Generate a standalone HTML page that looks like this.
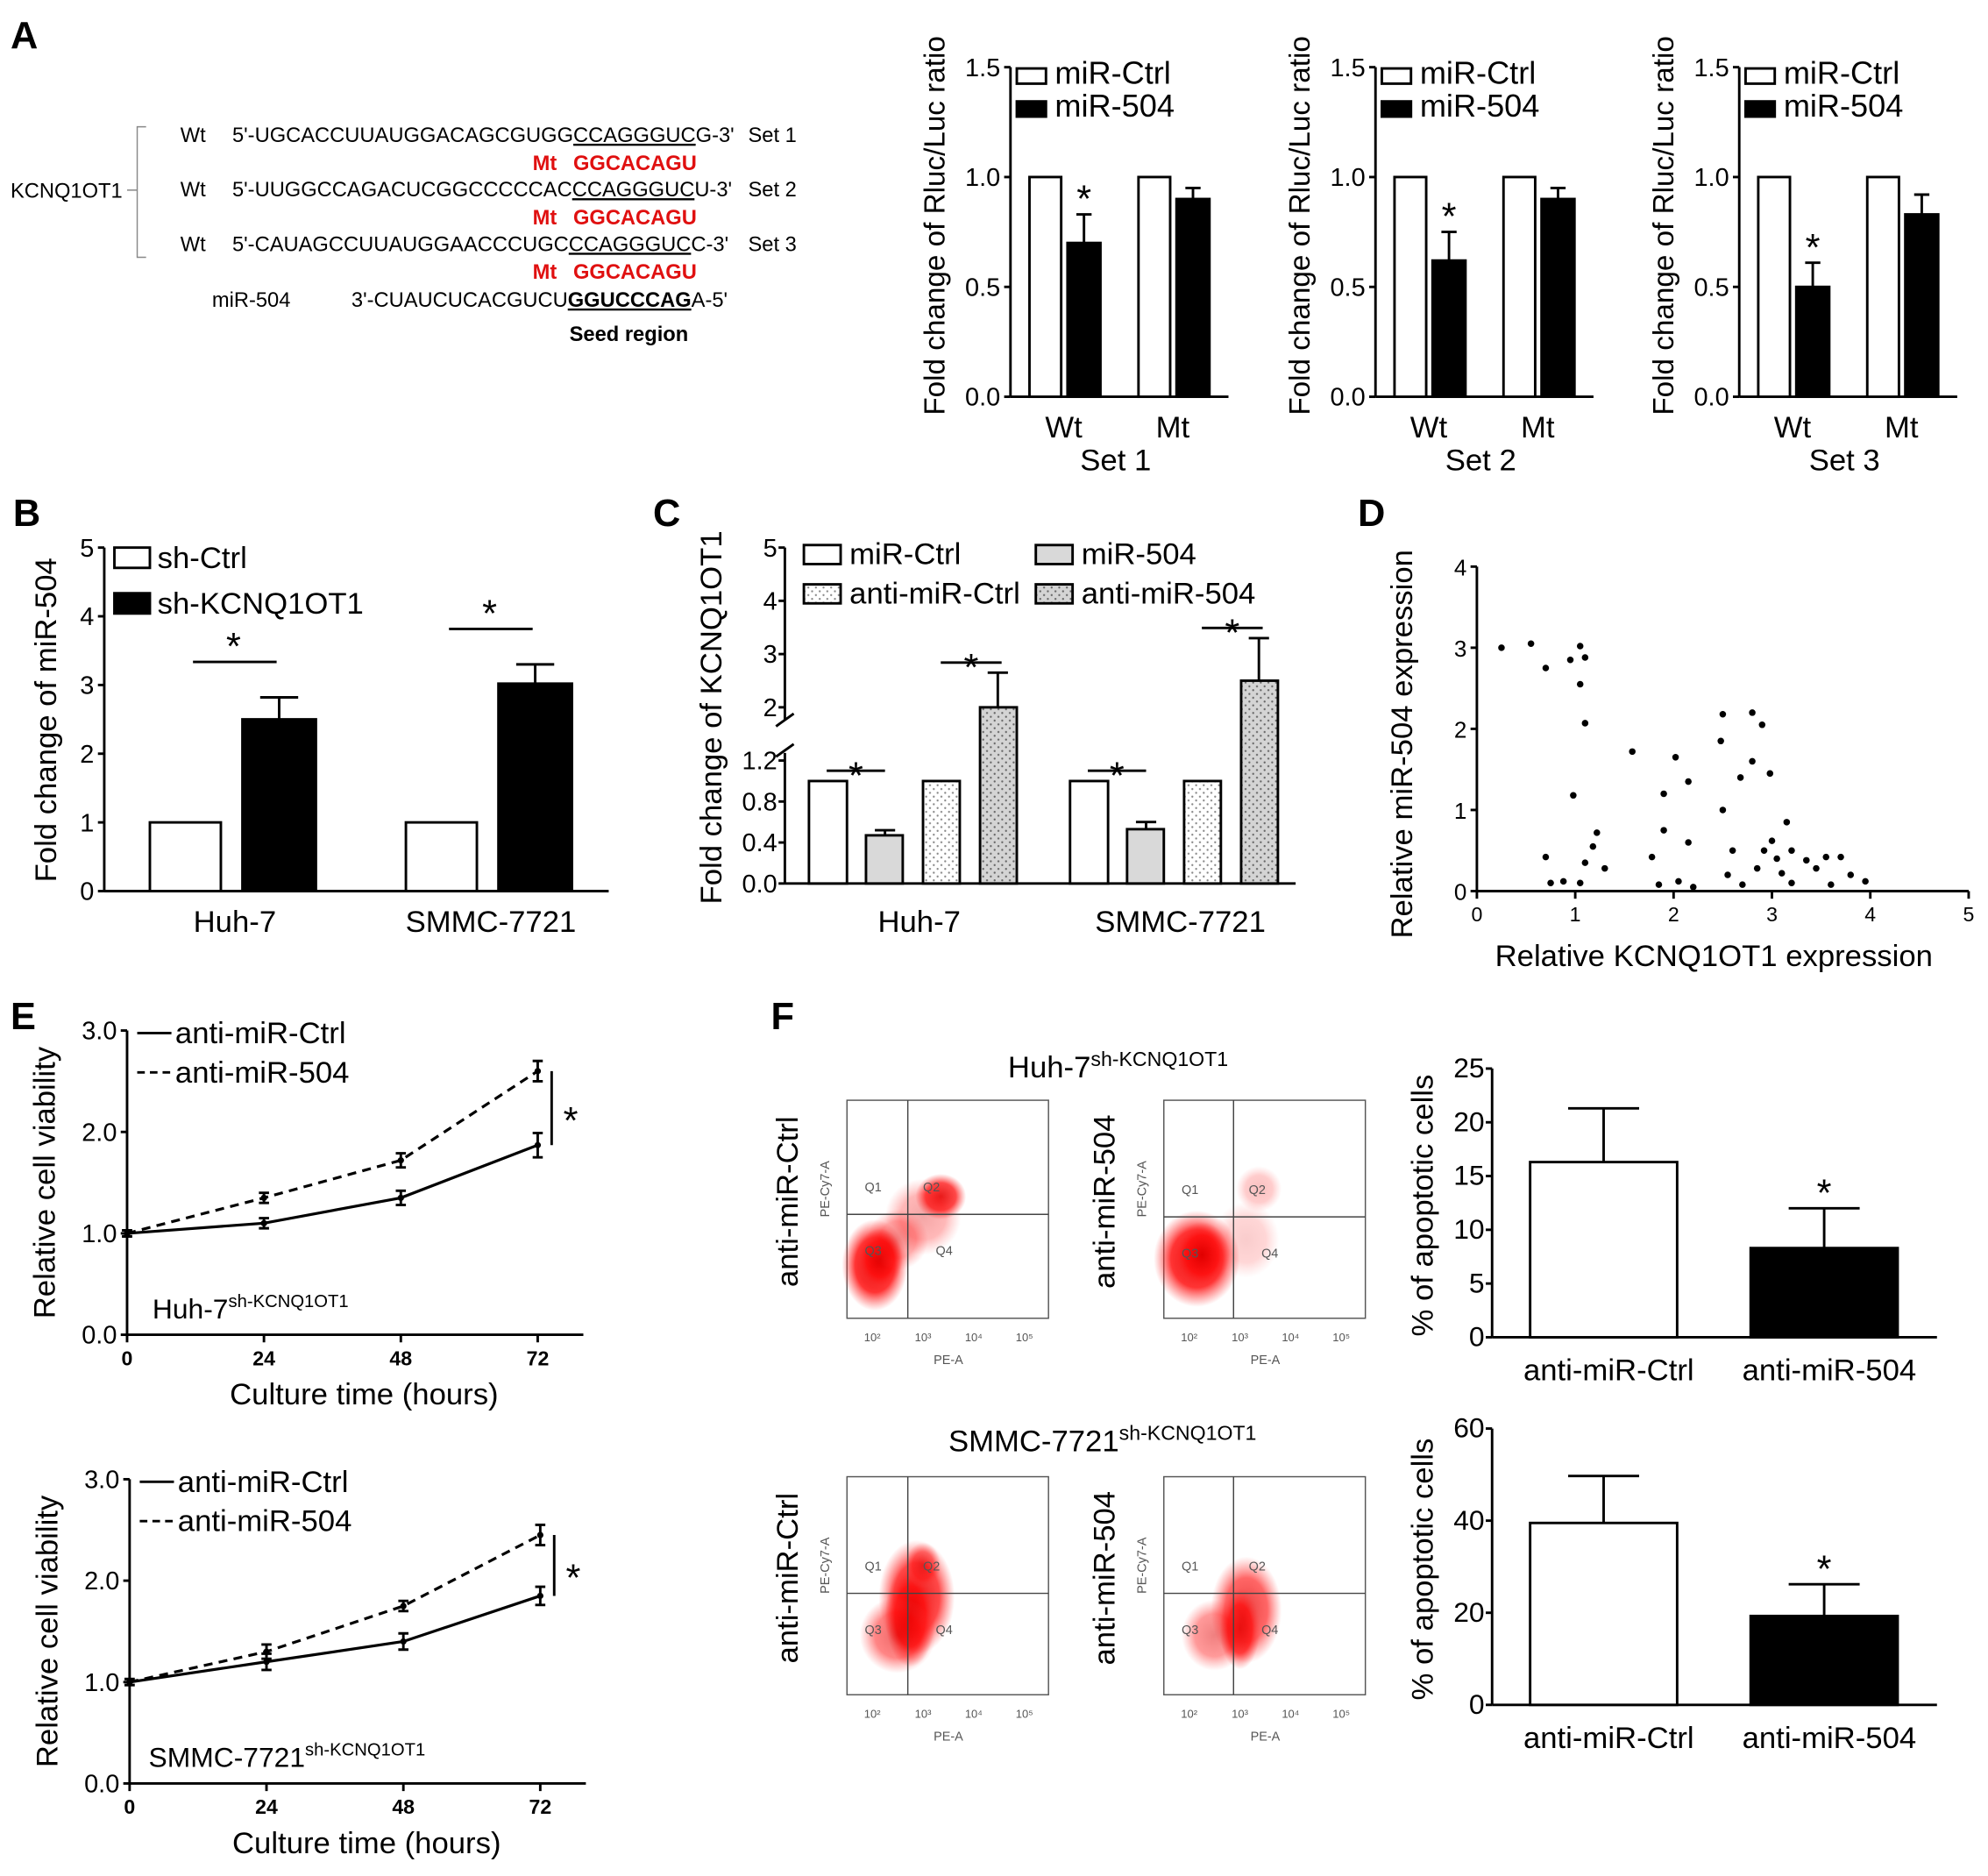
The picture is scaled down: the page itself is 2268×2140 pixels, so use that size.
<!DOCTYPE html>
<html><head><meta charset="utf-8"><style>
html,body{margin:0;padding:0;background:#fff}
svg{display:block;font-family:"Liberation Sans",Arial,sans-serif}
</style></head><body>
<svg id="fig" xmlns="http://www.w3.org/2000/svg" width="2268" height="2140" viewBox="0 0 1568 1480">
<defs>
<pattern id="dotW" width="6" height="6" patternUnits="userSpaceOnUse"><rect width="6" height="6" fill="#fff"/><circle cx="1.5" cy="1.5" r="0.8" fill="#888"/><circle cx="4.5" cy="4.5" r="0.8" fill="#888"/></pattern>
<pattern id="dotG" width="6" height="6" patternUnits="userSpaceOnUse"><rect width="6" height="6" fill="#d4d4d4"/><circle cx="1.5" cy="1.5" r="0.8" fill="#666"/><circle cx="4.5" cy="4.5" r="0.8" fill="#666"/></pattern>
<radialGradient id="redc"><stop offset="0" stop-color="#e00000" stop-opacity="1"/><stop offset="0.6" stop-color="#ff1010" stop-opacity="0.85"/><stop offset="1" stop-color="#ff4040" stop-opacity="0"/></radialGradient>
</defs>
<g id="root"></g>
</svg>
<script>
// ---------- data ----------
const aCats=['Wt','Mt'];
const aSets=['Set 1','Set 2','Set 3'];
const aCtrl=[[1,1],[1,1],[1,1]];
const a504=[[0.7,0.9],[0.62,0.9],[0.5,0.83]];
const a504Err=[[0.13,0.05],[0.13,0.05],[0.11,0.09]];
const aTicks=[0,0.5,1.0,1.5];
const bCells=['Huh-7','SMMC-7721'];
const bCtrl=[1,1];
const bSh=[2.5,3.02];
const bShErr=[0.32,0.28];
const bTicks=[0,1,2,3,4,5];
const cCells=['Huh-7','SMMC-7721'];
const cMiCtrl=[1,1];
const cMi504=[0.47,0.53];
const cMi504Err=[0.05,0.07];
const cAntiCtrl=[1,1];
const cAnti504=[2.0,2.5];
const cAnti504Err=[0.65,0.8];
const cTicksLow=[0,0.4,0.8,1.2];
const cTicksHigh=[2,3,4,5];
const dX=[0.25,0.55,0.7,0.95,1.05,1.1,1.05,1.1,0.98,0.7,0.75,0.88,1.05,1.1,1.18,1.22,1.3,1.58,1.78,1.85,1.9,1.9,2.02,2.05,2.15,2.15,2.2,2.5,2.48,2.5,2.55,2.6,2.7,2.68,2.8,2.8,2.9,2.85,2.92,2.98,3.0,3.05,3.1,3.15,3.2,3.2,3.35,3.45,3.55,3.6,3.7,3.8,3.95];
const dY=[3.0,3.05,2.75,2.85,3.02,2.88,2.55,2.07,1.18,0.42,0.1,0.12,0.1,0.35,0.55,0.72,0.28,1.72,0.42,0.08,0.75,1.2,1.65,0.12,1.35,0.6,0.05,2.18,1.85,1.0,0.2,0.5,0.08,1.4,2.2,1.6,2.05,0.28,0.5,1.45,0.62,0.4,0.22,0.85,0.5,0.1,0.38,0.28,0.42,0.08,0.42,0.2,0.12];
const dXTicks=[0,1,2,3,4,5];
const dYTicks=[0,1,2,3,4];
const eHours=[0,24,48,72];
const eTopCtrl=[1.0,1.1,1.35,1.87];
const eTopCtrlErr=[0.03,0.05,0.07,0.12];
const eTopAnti=[1.0,1.35,1.72,2.6];
const eTopAntiErr=[0.03,0.05,0.07,0.1];
const eBotCtrl=[1.0,1.2,1.4,1.85];
const eBotCtrlErr=[0.03,0.08,0.08,0.09];
const eBotAnti=[1.0,1.3,1.75,2.45];
const eBotAntiErr=[0.03,0.07,0.05,0.1];
const eTicks=[0,1,2,3];
const fGroups=['anti-miR-Ctrl','anti-miR-504'];
const fTopVals=[16.3,8.3];
const fTopErr=[5.0,3.7];
const fTopTicks=[0,5,10,15,20,25];
const fBotVals=[39.5,19.3];
const fBotErr=[10.2,6.9];
const fBotTicks=[0,20,40,60];

// ---------- helpers ----------
const NS='http://www.w3.org/2000/svg';
const root=document.getElementById('root');
function mk(tag,a,p){const e=document.createElementNS(NS,tag);for(const k in a)e.setAttribute(k,a[k]);(p||root).appendChild(e);return e;}
function tx(s,x,y,size,anchor,p,extra){const e=mk('text',Object.assign({x:x,y:y,'font-size':size,'text-anchor':anchor||'start',fill:'#000'},extra||{}),p);e.textContent=s;return e;}
function ln(x1,y1,x2,y2,p,w,dash){const a={x1:x1,y1:y1,x2:x2,y2:y2,stroke:'#000','stroke-width':w||2};if(dash)a['stroke-dasharray']=dash;return mk('line',a,p);}
function grp(){return mk('g',{});}
function fmt1(v){return v.toFixed(1);}
function yAxis(g,x,yOf,ticks,f,size,off){
  off=off||8;
  const l=ln(x,yOf(ticks[0]),x,yOf(ticks[ticks.length-1]),g);
  
  
  ticks.forEach(t=>{const y=yOf(t);const tk=ln(x-5,y,x,y,g);
    
    
    const lb=tx(f(t),x-off,y+7,size||20,'end',g);
    
    });
}
function bar(g,x,w,y0,y1,fill,name){const r=mk('rect',{x:x,y:Math.min(y0,y1),width:w,height:Math.abs(y0-y1),fill:fill,stroke:'#000','stroke-width':2},g);
  
  return r;}
function errUp(g,cx,yv,ye,hw){const e=mk('path',{d:`M${cx},${yv}V${ye}M${cx-hw},${ye}H${cx+hw}`,stroke:'#000','stroke-width':2,fill:'none'},g);
  
  }
function star(g,x,y,size){const s=tx('*',x,y,size||30,'middle',g);
  
  }
function ytitle(g,s,x,cy,size){const t=tx(s,x,cy,size||24,'middle',g,{transform:`rotate(-90 ${x} ${cy})`});
  
  }
function legBox(g,x,y,w,h,fill,label,size,tx0){const r=mk('rect',{x:x,y:y,width:w,height:h,fill:fill,stroke:'#000','stroke-width':2},g);
  
  
  const t=tx(label,tx0!==undefined?tx0:x+w+6,y+h,size||24,'start',g);
  
  }

// ---------- Panel letters ----------
[['A',8,38],['B',10,415],['C',515,415],['D',1071,415],['E',8,812],['F',608,812]].forEach(p=>{const t=tx(p[0],p[1],p[2],30,'start',root,{'font-weight':'bold'});
  
  });

// ---------- Panel A sequences ----------
(function(){const g=grp();
  
  
  const FS=16.4;
  const br=mk('path',{d:'M115,100H108V203H115M108,150H100',stroke:'#888','stroke-width':1,fill:'none'},g);
  
  
  tx('KCNQ1OT1',8,156,FS,'start',g);
  const rows=[["5'-UGCACCUUAUGGACAGCGUGG","CCAGGGUC","G-3'",'Set 1',112],["5'-UUGGCCAGACUCGGCCCCCAC","CCAGGGUC","U-3'",'Set 2',155],["5'-CAUAGCCUUAUGGAACCCUGC","CCAGGGUC","C-3'",'Set 3',198]];
  rows.forEach(r=>{tx('Wt',142,r[4],FS,'start',g);
    const t=mk('text',{x:183,y:r[4],'font-size':FS,fill:'#000'},g);
    
    
    const a=mk('tspan',{},t);a.textContent=r[0];const b=mk('tspan',{'text-decoration':'underline'},t);b.textContent=r[1];const c=mk('tspan',{},t);c.textContent=r[2];
    tx(r[3],590,r[4],FS,'start',g);
    const m=tx('Mt',420,r[4]+22,FS,'start',g,{fill:'#e01010','font-weight':'bold'});
    
    
    const ms=tx('GGCACAGU',452,r[4]+22,FS,'start',g,{fill:'#e01010','font-weight':'bold'});
    
    });
  tx('miR-504',167,242,FS,'start',g);
  const t=mk('text',{x:277,y:242,'font-size':FS,fill:'#000'},g);
  
  
  const a=mk('tspan',{},t);a.textContent="3'-CUAUCUCACGUCU";const b=mk('tspan',{'font-weight':'bold','text-decoration':'underline'},t);b.textContent='GGUCCCAG';const c=mk('tspan',{},t);c.textContent="A-5'";
  const s=tx('Seed region',449,269,FS,'start',g,{'font-weight':'bold'});
  
  
})();

// ---------- Panel A bar charts ----------
[797,1085,1372].forEach((ox,i)=>{const g=grp();
  
  
  const y0=313,ppu=(313-53)/1.5,yOf=v=>y0-v*ppu;
  yAxis(g,ox,yOf,aTicks,fmt1,20,8);
  const xa=ln(ox,y0,ox+172,y0,g);
  
  
  aCats.forEach((c,j)=>{const bx=ox+15+j*86;
    bar(g,bx,25,y0,yOf(aCtrl[i][j]),'#fff','bar-ctrl-'+c.toLowerCase());
    bar(g,bx+30,26,y0,yOf(a504[i][j]),'#000','bar-mir504-'+c.toLowerCase());
    errUp(g,bx+43,yOf(a504[i][j]),yOf(a504[i][j]+a504Err[i][j]),6);
    if(j===0)star(g,bx+43,yOf(a504[i][j]+a504Err[i][j])-2,30);
    const cl=tx(c,bx+27,345,24,'middle',g);
    
    });
  const st=tx(aSets[i],ox+83,371,24,'middle',g);
  
  
  ytitle(g,'Fold change of Rluc/Luc ratio',ox-52,178,23);
  legBox(g,ox+5,54,23,12,'#fff','miR-Ctrl',25,ox+35);
  legBox(g,ox+5,80,23,12,'#000','miR-504',25,ox+35);
});

// ---------- Panel B ----------
(function(){const g=grp();
  
  
  const x0=82,y0=703,ppu=(703-432)/5,yOf=v=>y0-v*ppu;
  yAxis(g,x0,yOf,bTicks,v=>String(v),20,8);
  const xa=ln(x0,y0,480,y0,g);
  
  
  bCells.forEach((c,j)=>{const bx=118+j*202;
    bar(g,bx,56,y0,yOf(bCtrl[j]),'#fff','bar-sh-ctrl');
    bar(g,bx+73,58,y0,yOf(bSh[j]),'#000','bar-sh-kcnq1ot1');
    const top=yOf(bSh[j]+bShErr[j]);
    errUp(g,bx+102,yOf(bSh[j]),top,15);
    const sy=top-28;const sl=ln(bx+34,sy,bx+100,sy,g);
    
    
    star(g,bx+66,sy-2,30);
    const cl=tx(c,bx+67,735,24,'middle',g);
    
    });
  ytitle(g,'Fold change of miR-504',44,568,24);
  legBox(g,90,432,28,16,'#fff','sh-Ctrl',24,124);
  legBox(g,90,468,28,16,'#000','sh-KCNQ1OT1',24,124);
})();

// ---------- Panel C ----------
(function(){const g=grp();
  
  
  const x0=619,y0=697;
  const yOf=v=>v<=1.2?y0-v/1.2*97:(v>=2?558-(v-2)*42:600-(v-1.2)/0.8*42);
  const l1=ln(x0,y0,x0,yOf(1.2)-6,g);
  const l2=ln(x0,yOf(2)+10,x0,yOf(5),g);
  const bk=mk('path',{d:`M${x0-7},${yOf(1.2)-3}L${x0+7},${yOf(1.2)-13}M${x0-7},${yOf(2)+15}L${x0+7},${yOf(2)+5}`,stroke:'#000','stroke-width':2,fill:'none'},g);
  
  
  cTicksLow.concat(cTicksHigh).forEach(t=>{const y=yOf(t);ln(x0-5,y,x0,y,g);
    const lb=tx(t<2?fmt1(t):String(t),x0-6,y+7,20,'end',g);
    
    });
  const xa=ln(x0,y0,1022,y0,g);
  
  
  cCells.forEach((c,j)=>{const bx=638+j*206;
    bar(g,bx,30,y0,yOf(cMiCtrl[j]),'#fff','bar-mir-ctrl');
    bar(g,bx+45,29,y0,yOf(cMi504[j]),'#d9d9d9','bar-mir-504');
    errUp(g,bx+60,yOf(cMi504[j]),yOf(cMi504[j]+cMi504Err[j]),8);
    bar(g,bx+90,29,y0,yOf(cAntiCtrl[j]),'url(#dotW)','bar-anti-mir-ctrl');
    bar(g,bx+135,29,y0,yOf(cAnti504[j]),'url(#dotG)','bar-anti-mir-504');
    const t2=yOf(cAnti504[j]+cAnti504Err[j]);
    errUp(g,bx+149,yOf(cAnti504[j]),t2,8);
    const s1=ln(bx+14,608,bx+60,608,g);
    star(g,bx+37,622,30);
    const sy=t2-8;const s2=ln(bx+104,sy,bx+152,sy,g);
    star(g,bx+128,sy+14,30);
    const cl=tx(c,bx+87,735,24,'middle',g);
    
    });
  ytitle(g,'Fold change of KCNQ1OT1',569,566,24);
  legBox(g,634,430,29,15,'#fff','miR-Ctrl',24,670);
  legBox(g,817,430,29,15,'#d9d9d9','miR-504',24,853);
  legBox(g,634,461,29,15,'url(#dotW)','anti-miR-Ctrl',24,670);
  legBox(g,817,461,29,15,'url(#dotG)','anti-miR-504',24,853);
})();

// ---------- Panel D ----------
(function(){const g=grp();
  
  
  const x0=1165,y0=703,xOf=v=>x0+v*77.6,yOf=v=>y0-v*64;
  yAxis(g,x0,yOf,dYTicks,v=>String(v),18,8);
  const xa=ln(x0,y0,xOf(5),y0,g);
  
  
  dXTicks.forEach(t=>{const x=xOf(t);ln(x,y0,x,y0+6,g);
    const lb=tx(String(t),x,y0+24,16,'middle',g);
    
    });
  dX.forEach((v,i)=>{const c=mk('circle',{cx:xOf(v),cy:yOf(dY[i]),r:2.6,fill:'#000'},g);
    
    });
  ytitle(g,'Relative miR-504 expression',1114,587,24);
  const xt=tx('Relative KCNQ1OT1 expression',1352,762,24,'middle',g);
  
  
})();

// ---------- Panel E ----------
function chartE(x0,y0,ctrl,ctrlE,anti,antiE,cell,name){const g=grp();
  
  
  const yOf=v=>y0-v*80,xOf=h=>x0+h*4.5;
  yAxis(g,x0,yOf,eTicks,fmt1,20,8);
  const xa=ln(x0,y0,x0+360,y0,g);
  
  
  eHours.forEach(h=>{const x=xOf(h);ln(x,y0,x,y0+6,g);
    const lb=tx(String(h),x,y0+24,16,'middle',g,{'font-weight':'bold'});
    
    });
  [[ctrl,ctrlE,null,'line-anti-mir-ctrl'],[anti,antiE,'7,5','line-anti-mir-504']].forEach(s=>{
    const pl=mk('polyline',{points:eHours.map((h,i)=>xOf(h)+','+yOf(s[0][i])).join(' '),fill:'none',stroke:'#000','stroke-width':2.2},g);
    if(s[2])pl.setAttribute('stroke-dasharray',s[2]);
    
    
    eHours.forEach((h,i)=>{const x=xOf(h),a=yOf(s[0][i]+s[1][i]),b=yOf(s[0][i]-s[1][i]);
      const e=mk('path',{d:`M${x},${a}V${b}M${x-4},${a}H${x+4}M${x-4},${b}H${x+4}`,stroke:'#000','stroke-width':2,fill:'none'},g);
      
      
      const p=mk('circle',{cx:x,cy:yOf(s[0][i]),r:2.5,fill:'#000'},g);
      
      });});
  const bx=x0+335;const br=ln(bx,yOf(ctrl[3]),bx,yOf(anti[3]),g);
  
  
  star(g,bx+15,yOf((ctrl[3]+anti[3])/2)+20,30);
  const l1=ln(x0+8,y0-238,x0+35,y0-238,g);
  tx('anti-miR-Ctrl',x0+38,y0-230,24,'start',g);
  const l2=ln(x0+8,y0-207,x0+35,y0-207,g,2,'6,4');
  tx('anti-miR-504',x0+38,y0-199,24,'start',g);
  const ct=mk('text',{x:x0+(name.endsWith('top')?20:15),y:y0-13,'font-size':22,fill:'#000'},g);
  
  
  const a=mk('tspan',{},ct);a.textContent=cell;const b=mk('tspan',{'font-size':14,dy:-9},ct);b.textContent='sh-KCNQ1OT1';
  ytitle(g,'Relative cell viability',x0-57,y0-120,24);
  const xt=tx('Culture time (hours)',x0+187,y0+55,24,'middle',g);
  
  
}
chartE(100,1053,eTopCtrl,eTopCtrlErr,eTopAnti,eTopAntiErr,'Huh-7','chart-e-top');
chartE(102,1407,eBotCtrl,eBotCtrlErr,eBotAnti,eBotAntiErr,'SMMC-7721','chart-e-bottom');

// ---------- Panel F flow plots ----------
function flow(x,y,qx,qy,clusters,label){const g=grp();
  
  
  const bxr=mk('rect',{x:x,y:y,width:159,height:172,fill:'#fff',stroke:'#555','stroke-width':1},g);
  
  
  clusters.forEach(c=>{const e=mk('ellipse',{cx:x+c[0],cy:y+c[1],rx:c[2],ry:c[3],fill:'url(#redc)',opacity:c[4]},g);
    
    });
  ln(x+qx,y,x+qx,y+172,g,1).setAttribute('stroke','#444');
  ln(x,y+qy,x+159,y+qy,g,1).setAttribute('stroke','#444');
  [['Q1',14,qy-18],['Q2',qx+12,qy-18],['Q3',14,qy+32],['Q4',qx+22,qy+32]].forEach(q=>tx(q[0],x+q[1],y+q[2],10,'start',g,{fill:'#555'}));
  ['10²','10³','10⁴','10⁵'].forEach((s,i)=>tx(s,x+20+i*40,y+190,9,'middle',g,{fill:'#555'}));
  tx('PE-A',x+80,y+208,10,'middle',g,{fill:'#555'});
  tx('PE-Cy7-A',x-14,y+70,10,'middle',g,{fill:'#555',transform:`rotate(-90 ${x-14} ${y+70})`});
  ytitle(g,label,x-39,y+80,24);
}
(function(){const t=mk('text',{x:795,y:850,'font-size':24,fill:'#000'});
  
  
  const a=mk('tspan',{},t);a.textContent='Huh-7';const b=mk('tspan',{'font-size':16,dy:-9},t);b.textContent='sh-KCNQ1OT1';
  const t2=mk('text',{x:748,y:1145,'font-size':24,fill:'#000'});
  
  
  const c=mk('tspan',{},t2);c.textContent='SMMC-7721';const d=mk('tspan',{'font-size':16,dy:-9},t2);d.textContent='sh-KCNQ1OT1';})();
flow(668,868,48,90,[[22,130,26,36,1],[26,125,18,24,1],[74,76,20,18,0.9],[60,92,30,30,0.35],[40,110,24,24,0.4]],'anti-miR-Ctrl');
flow(918,868,55,92,[[26,125,34,38,1],[30,122,22,26,1],[75,70,18,18,0.25],[65,110,26,30,0.2]],'anti-miR-504');
flow(668,1165,48,92,[[55,95,30,45,0.9],[50,110,20,40,1],[40,125,30,30,0.6],[60,70,14,18,0.6]],'anti-miR-Ctrl');
flow(918,1165,55,92,[[65,105,28,42,0.75],[60,120,16,32,0.9],[40,125,26,28,0.5]],'anti-miR-504');

// ---------- Panel F bar charts ----------
function chartF(y0,top,vals,errs,ticks,name){const g=grp();
  
  
  const x0=1177,max=ticks[ticks.length-1],yOf=v=>y0-v*(y0-top)/max;
  yAxis(g,x0,yOf,ticks,v=>String(v),22,6);
  const xa=ln(x0,y0,1528,y0,g);
  
  
  fGroups.forEach((c,j)=>{const bx=1207+j*174;
    bar(g,bx,116,y0,yOf(vals[j]),j?'#000':'#fff','bar-'+c.toLowerCase());
    errUp(g,bx+58,yOf(vals[j]),yOf(vals[j]+errs[j]),28);
    if(j)star(g,bx+58,yOf(vals[j]+errs[j])-2,30);
    const cl=tx(c,bx+62,y0+34,24,'middle',g);
    
    });
  ytitle(g,'% of apoptotic cells',1130,(y0+top)/2+2,24);
}
chartF(1055,843,fTopVals,fTopErr,fTopTicks,'chart-f-top');
chartF(1345,1127,fBotVals,fBotErr,fBotTicks,'chart-f-bottom');
</script>
</body></html>
